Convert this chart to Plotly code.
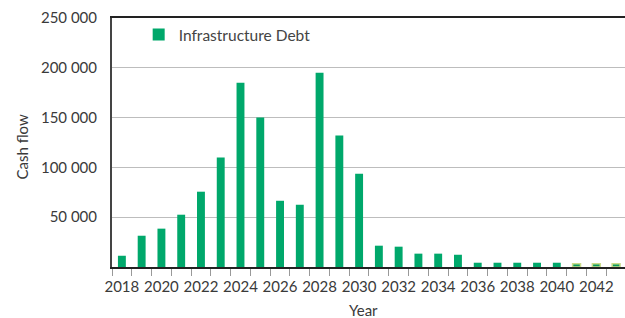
import plotly.graph_objects as go

years = list(range(2018, 2044))
cash_flow = [11300, 31400, 38500, 52500, 75600, 110000, 185000, 150000, 66500, 62500,
             195000, 132000, 93700, 21400, 20400, 13400, 13400, 12300, 4300, 4300,
             4300, 4300, 4300, 3300, 3300, 3300]
projected_from = 2041
series_name = "Infrastructure Debt"
y_ticks = [50000, 100000, 150000, 200000, 250000]
x_label_years = [y for y in years if y % 2 == 0]

fill = ["#00a86b" if y < projected_from else "#0b9a60" for y in years]
outline = ["#00a86b" if y < projected_from else "#c9dc8a" for y in years]
outline_w = [0 if y < projected_from else 1.5 for y in years]

font = "Lato, 'Open Sans', sans-serif"
txt = "#3a3a3a"
x_range = [years[0] - 0.5, years[-1] + 0.45]

fig = go.Figure()
fig.add_trace(go.Bar(
    x=years, y=cash_flow, name=series_name, width=0.4,
    marker=dict(color=fill, line=dict(color=outline, width=outline_w)),
    showlegend=True,
))
# invisible helper trace so the label axis renders
fig.add_trace(go.Scatter(x=[years[0]], y=[0], xaxis="x2", mode="markers",
                         marker=dict(opacity=0), showlegend=False, hoverinfo="skip"))

fig.update_layout(
    width=625, height=318,
    margin=dict(l=112, r=0, t=18, b=51),
    plot_bgcolor="white", paper_bgcolor="white",
    font=dict(family=font, size=15, color=txt),
    separators=". ",
    legend=dict(x=0.052, y=1.0, xanchor="left", yanchor="top",
                bgcolor="rgba(0,0,0,0)", font=dict(size=15.5, color="#444"),
                itemwidth=30),
    xaxis=dict(
        range=x_range,
        tickmode="array", tickvals=[y - 0.5 for y in years],
        ticktext=["" for _ in years],
        ticks="outside", ticklen=7, tickcolor="#999", tickwidth=1,
        showgrid=False, zeroline=False,
        showline=True, linecolor="#222", linewidth=1.5, mirror=True,
    ),
    xaxis2=dict(
        range=x_range, overlaying="x", side="bottom",
        tickmode="array", tickvals=x_label_years,
        ticktext=[str(y) for y in x_label_years],
        ticks="", showgrid=False, zeroline=False, showline=False,
        ticklabelstandoff=9,
        tickfont=dict(size=15, color=txt),
    ),
    yaxis=dict(
        range=[0, 250000], tickmode="array", tickvals=y_ticks,
        tickformat=",d", showgrid=True, gridcolor="#bdbdbd", gridwidth=1,
        zeroline=False, showline=True, linecolor="#444", linewidth=2,
        ticks="", ticklabelstandoff=10,
        tickfont=dict(size=15, color=txt),
    ),
    annotations=[
        dict(text="Cash flow", xref="paper", yref="paper", x=-112/513 + 22/513, y=0.48,
             textangle=-90, showarrow=False, font=dict(size=15, color=txt),
             xanchor="center", yanchor="middle"),
        dict(text="Year", xref="paper", yref="paper", x=(363-112)/513, y=-(310-267)/249,
             showarrow=False, font=dict(size=15, color=txt),
             xanchor="center", yanchor="middle"),
    ],
)

fig.write_html("out.html", config={"displayModeBar": False},
               post_script="document.body.style.margin='0';document.body.style.overflow='hidden';")
